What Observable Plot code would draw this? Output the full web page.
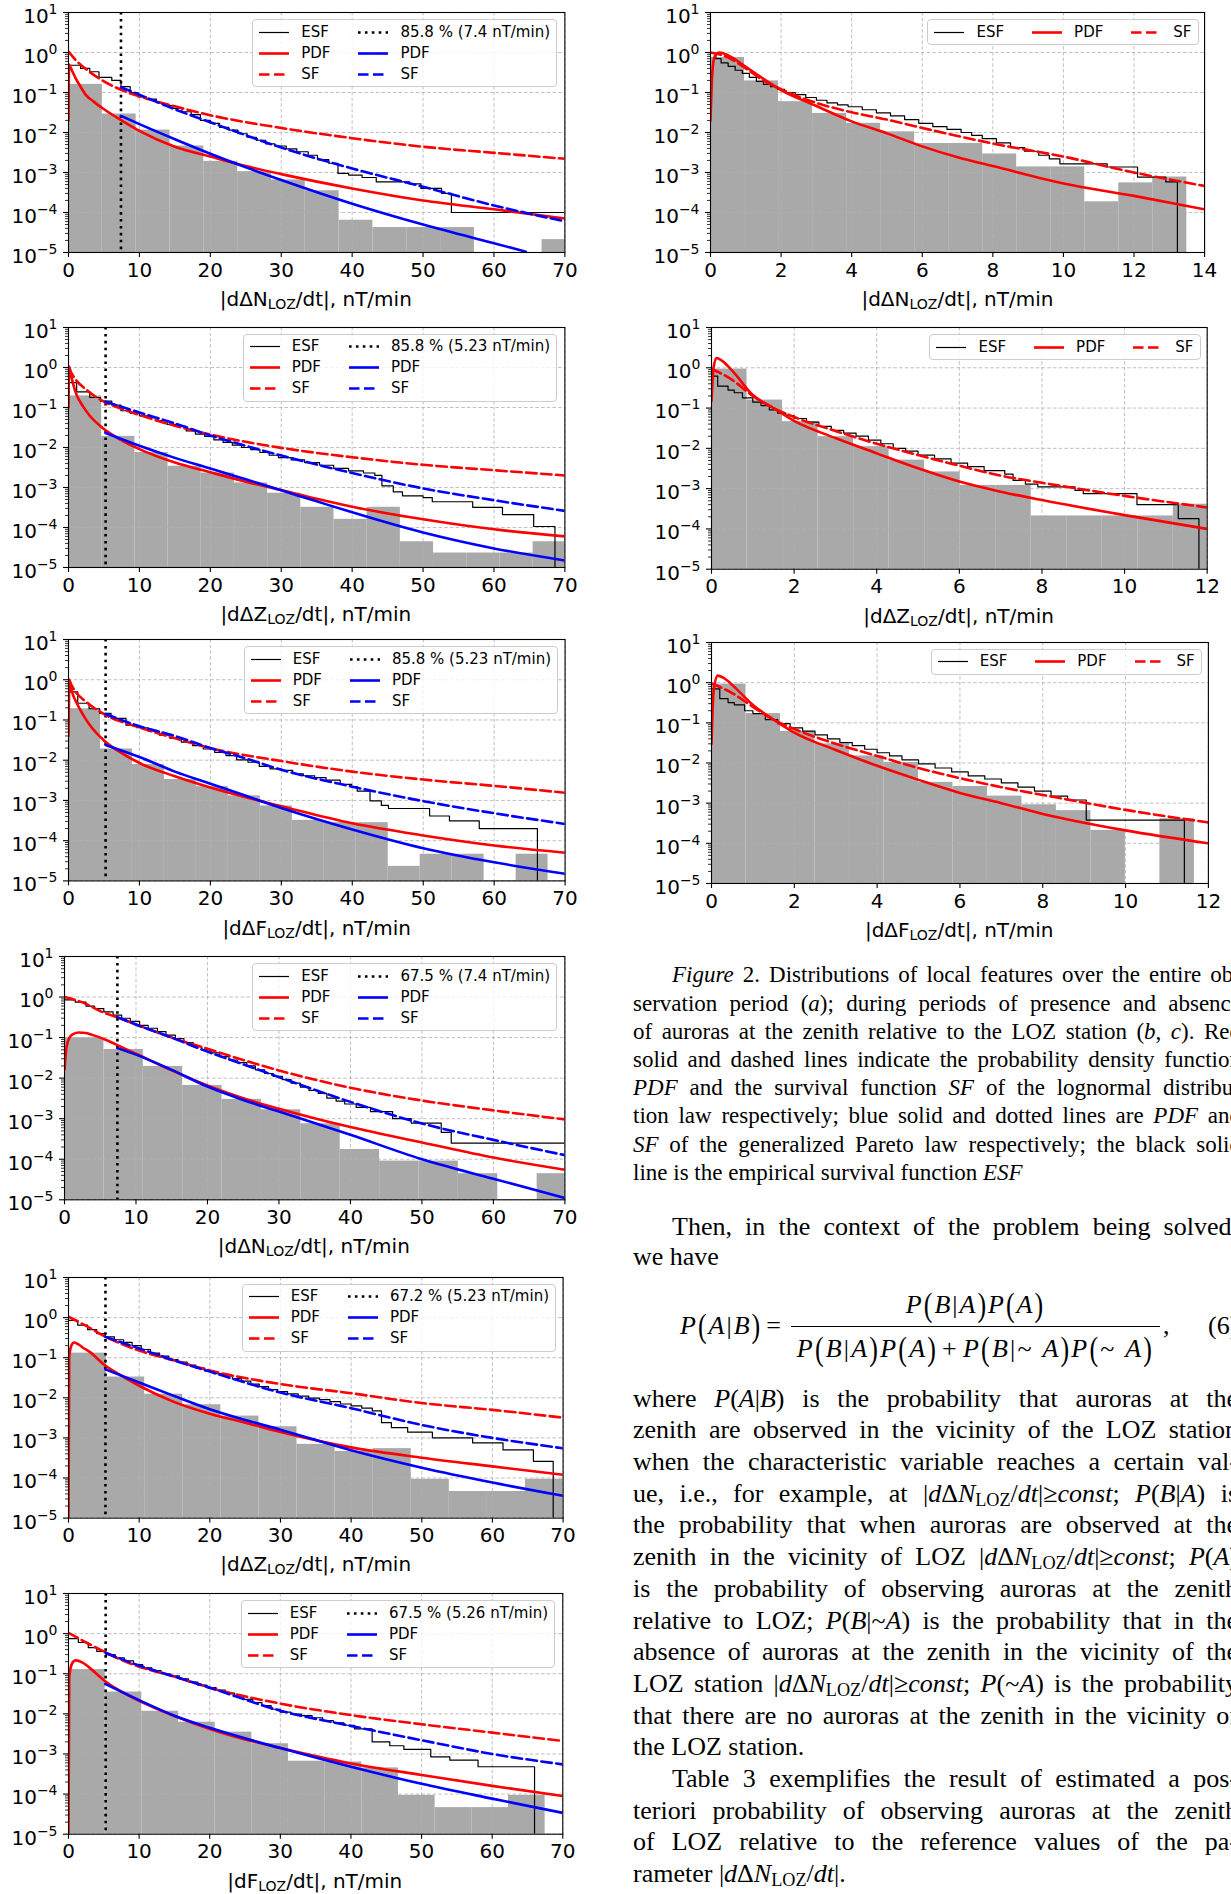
<!DOCTYPE html>
<html>
<head>
<meta charset="utf-8">
<script src="https://cdn.jsdelivr.net/npm/d3@7"></script>
<script src="https://cdn.jsdelivr.net/npm/@observablehq/plot@0.6"></script>
<style>
html, body { margin:0; padding:0; background:#fff; }
#page { position:relative; width:1231px; height:1894px; overflow:hidden; background:#fff; }
.pc { position:absolute; }
.xl { position:absolute; font-family:"DejaVu Sans"; font-size:20px; line-height:24px; text-align:center; white-space:nowrap; color:#000; }
.xl sub { font-size:14px; vertical-align:-3px; line-height:0; }
.leg { position:absolute; box-sizing:border-box; border:1px solid #cccccc; border-radius:4px; background:rgba(255,255,255,0.8); padding:3.5px 6px; font-family:"DejaVu Sans"; font-size:15px; line-height:17px; color:#000; white-space:nowrap; }
.leg svg { display:block; }
.g4 { display:grid; grid-template-columns:30px auto 30px auto; column-gap:12px; row-gap:4px; align-items:center; }
.g4 .t1 { padding-right:16px; }
.row3 { display:flex; align-items:center; }
.row3 svg { margin-right:12px; }
.row3 .t { margin-right:28px; }
.row3 .t:last-child { margin-right:0; }
.tl { position:absolute; white-space:nowrap; font-family:"Liberation Serif"; color:#000; }
.tl sub { font-size:70%; vertical-align:-0.22em; line-height:0; }
.eq { letter-spacing:2px; }
.eq2 { letter-spacing:2.2px; }
.bp { display:inline-block; transform:scale(1,1.3); }
.op { margin:0 4px; }
</style>
</head>
<body>
<div id="page"></div>
<script>
// ---------------- ticks ----------------
const xTicks70 = [0, 10, 20, 30, 40, 50, 60, 70];
const xTicks14 = [0, 2, 4, 6, 8, 10, 12, 14];
const xTicks12 = [0, 2, 4, 6, 8, 10, 12];
const yTicks = [1e-5, 1e-4, 1e-3, 1e-2, 1e-1, 1, 10];
const yTickLabels = ["10^-5", "10^-4", "10^-3", "10^-2", "10^-1", "10^0", "10^1"];
const yMinorMult = [2, 3, 4, 5, 6, 7, 8, 9];
const yMinorDecades = [1e-5, 1e-4, 1e-3, 1e-2, 1e-1, 1];

// ---------------- thresholds / labels ----------------
const thrValues = [7.4, 5.23, 5.23, 7.4, 5.23, 5.26];
const thrLabels = ["85.8 % (7.4 nT/min)", "85.8 % (5.23 nT/min)", "85.8 % (5.23 nT/min)",
                   "67.5 % (7.4 nT/min)", "67.2 % (5.23 nT/min)", "67.5 % (5.26 nT/min)"];
const xLabels = ["|dΔN<sub>LOZ</sub>/dt|, nT/min", "|dΔZ<sub>LOZ</sub>/dt|, nT/min", "|dΔF<sub>LOZ</sub>/dt|, nT/min",
                 "|dΔN<sub>LOZ</sub>/dt|, nT/min", "|dΔZ<sub>LOZ</sub>/dt|, nT/min", "|dF<sub>LOZ</sub>/dt|, nT/min",
                 "|dΔN<sub>LOZ</sub>/dt|, nT/min", "|dΔZ<sub>LOZ</sub>/dt|, nT/min", "|dΔF<sub>LOZ</sub>/dt|, nT/min"];

// ---------------- (a) whole period: dN ----------------
const aNEdges = [0,4.77,9.54,14.31,19.08,23.85,28.62,33.39,38.16,42.93,47.7,52.47,57.24,62.01,66.78,71.55];
const aNHist = [0.16,0.029,0.0115,0.0046,0.0019,0.00105,0.00065,0.00035,0.000064,0.000042,0.000042,0.000042,0,0,0.000021];
const aNEsf = [[0,0.48],[1.7,0.4],[3,0.33],[4.3,0.24],[6.1,0.2],[7.4,0.14],[8.7,0.1],[9.8,0.078],[11,0.068],[12.4,0.056],[13.4,0.047],[14.7,0.04],[16,0.033],[17.3,0.028],[18.6,0.02],[20,0.017],[21.3,0.0135],[22.6,0.0114],[23.9,0.0093],[25.2,0.0076],[26.5,0.0064],[27.8,0.0052],[29.1,0.0046],[30.7,0.0039],[32.2,0.0033],[33.8,0.0027],[35.1,0.0021],[36.7,0.0017],[38,0.00095],[39.5,0.00086],[41.4,0.00075],[43.4,0.00058],[48.1,0.00052],[49.7,0.0004],[52.6,0.0003],[54,0.0001],[70,0.0001]];
const aNLnPdf = [[0,0.02],[0.08,0.5],[0.3,0.42],[0.6,0.32],[1,0.23],[1.5,0.16],[2.5,0.085],[3.5,0.06],[5,0.038],[7.5,0.02],[10,0.011],[15,0.0044],[20,0.0025],[25,0.00145],[30,0.00091],[40,0.0004],[50,0.0002],[60,0.00012],[70,0.000071]];
const aNLnSf = [[0,1.05],[1,0.65],[2.5,0.38],[5,0.19],[7.5,0.115],[10,0.08],[15,0.045],[20,0.027],[30,0.013],[40,0.0072],[50,0.0044],[60,0.0031],[70,0.0022]];
const aNGpPdf = [[7.4,0.026],[10,0.0162],[15,0.0068],[20,0.00295],[25,0.00135],[30,0.00065],[40,0.000166],[50,0.00005],[60,0.000017],[64.5,0.0000105]];
const aNGpSf = [[7.4,0.135],[10,0.088],[15,0.038],[20,0.018],[30,0.0042],[40,0.00126],[50,0.00044],[60,0.00015],[70,0.00006]];

// ---------------- (a) dZ ----------------
const aZEdges = [0,4.68,9.36,14.04,18.72,23.4,28.08,32.76,37.44,42.12,46.8,51.48,56.16,60.84,65.52,70.2];
const aZHist = [0.195,0.019,0.0075,0.0034,0.0023,0.0013,0.00072,0.00032,0.00016,0.00032,0.000044,0.000023,0.000023,0.000023,0.000044];
const aZEsf = [[0,0.42],[1.15,0.246],[3,0.178],[4.5,0.145],[6.1,0.115],[7.4,0.083],[8.7,0.072],[10,0.062],[11.3,0.056],[12.6,0.047],[13.9,0.038],[15.2,0.034],[16.6,0.026],[17.9,0.0215],[19.2,0.019],[20.5,0.0155],[21.8,0.0134],[23.1,0.0115],[24.4,0.01],[25.7,0.0088],[27,0.0075],[28.3,0.0064],[29.6,0.0056],[31.4,0.0049],[33.3,0.0042],[35.4,0.0036],[37.4,0.003],[39.5,0.0026],[41.6,0.0023],[43.2,0.002],[44.2,0.0011],[45.8,0.00078],[47.1,0.00062],[50,0.00056],[51.3,0.00044],[57,0.00032],[61.2,0.00021],[65.6,0.000106],[68.6,0.00001]];
const aZLnPdf = [[0,0.1],[0.1,1.05],[0.4,0.6],[1,0.24],[2,0.11],[3,0.062],[5,0.029],[7,0.017],[10,0.0091],[15,0.0042],[20,0.0024],[25,0.0014],[30,0.00086],[35,0.00052],[40,0.00033],[50,0.00016],[60,0.00009],[70,0.00006]];
const aZLnSf = [[0,1.0],[1,0.5],[2.5,0.28],[5,0.14],[7,0.1],[10,0.065],[15,0.035],[20,0.021],[30,0.0098],[40,0.0057],[50,0.0037],[60,0.0027],[70,0.002]];
const aZGpPdf = [[5.23,0.023],[10,0.011],[15,0.0055],[20,0.003],[25,0.0016],[30,0.00085],[35,0.00045],[40,0.00024],[50,0.000075],[60,0.00003],[70,0.000015]];
const aZGpSf = [[5.23,0.14],[10,0.075],[15,0.04],[20,0.02],[25,0.011],[30,0.0063],[40,0.0023],[50,0.00095],[60,0.00048],[70,0.00026]];

// ---------------- (a) dF ----------------
const aFEdges = [0,4.51,9.01,13.52,18.03,22.54,27.04,31.55,36.06,40.56,45.07,49.58,54.08,58.59,63.1,67.6];
const aFHist = [0.19,0.019,0.0078,0.0033,0.0022,0.0013,0.00073,0.00032,0.00028,0.00028,0.000023,0.000046,0.000046,0,0.000046];
const aFEsf = [[0,0.5],[1.3,0.26],[2.9,0.19],[4.4,0.145],[6,0.11],[8.1,0.074],[9.6,0.064],[11.2,0.053],[12.8,0.042],[14.3,0.035],[15.9,0.028],[17.5,0.023],[19,0.019],[20.6,0.0157],[22.2,0.013],[23.7,0.0102],[25.3,0.0089],[26.9,0.007],[28.4,0.0061],[30,0.0056],[31.6,0.0046],[33.1,0.0041],[34.7,0.0037],[36.3,0.0032],[38.3,0.0025],[39.9,0.0022],[40.7,0.0017],[42.5,0.00097],[44.1,0.00075],[45.1,0.00063],[50.9,0.00041],[53.7,0.00031],[57.9,0.0002],[66.1,0.00001]];
const aFLnPdf = [[0,0.04],[0.15,1.0],[0.5,0.5],[1,0.3],[2,0.14],[3,0.075],[5,0.031],[7,0.017],[10,0.0085],[15,0.004],[20,0.0021],[25,0.0012],[30,0.00072],[40,0.00027],[50,0.000135],[60,0.000076],[70,0.00005]];
const aFLnSf = [[0,1.0],[1,0.5],[2.5,0.28],[5,0.14],[10,0.065],[15,0.035],[20,0.02],[30,0.0095],[40,0.0052],[50,0.0033],[60,0.0023],[70,0.00155]];
const aFGpPdf = [[5.23,0.024],[10,0.012],[15,0.0052],[20,0.0026],[25,0.0013],[30,0.00065],[40,0.00019],[50,0.000065],[60,0.000029],[70,0.000015]];
const aFGpSf = [[5.23,0.14],[10,0.07],[15,0.04],[20,0.02],[25,0.011],[30,0.0058],[40,0.0022],[50,0.00096],[60,0.00048],[70,0.00026]];

// ---------------- (b) aurora present: dN ----------------
const bNEdges = [0,5.51,11.02,16.53,22.04,27.55,33.06,38.57,44.08,49.59,55.1,60.61,66.12,71.63];
const bNHist = [0.099,0.051,0.0195,0.0066,0.003,0.00166,0.00075,0.000174,0.00009,0.00009,0.000044,0,0.000044];
const bNEsf = [[0,0.85],[1.5,0.75],[3,0.6],[4.2,0.52],[5.5,0.43],[6.8,0.36],[8,0.3],[9.2,0.25],[10.5,0.2],[11.7,0.17],[13,0.14],[14.2,0.115],[15.5,0.095],[16.7,0.075],[18,0.06],[19.2,0.05],[20.5,0.042],[21.7,0.034],[23,0.028],[24.2,0.024],[25.5,0.02],[26.7,0.016],[28,0.013],[29.2,0.011],[30.5,0.0092],[31.7,0.0075],[33,0.006],[34.2,0.005],[35.5,0.0042],[36.7,0.0032],[38,0.0027],[39.2,0.0023],[40.8,0.0019],[42.8,0.0015],[45.9,0.001],[48.5,0.00078],[52.7,0.00046],[54.1,0.00025],[70,0.00025]];
const bNLnPdf = [[0,0.016],[0.3,0.06],[0.7,0.1],[1.2,0.122],[2,0.133],[3,0.13],[4,0.115],[6,0.085],[8,0.058],[10,0.04],[15,0.0155],[20,0.0066],[25,0.0032],[30,0.00176],[40,0.00062],[50,0.00026],[60,0.00011],[70,0.000055]];
const bNLnSf = [[0,1.0],[1.5,0.85],[3,0.68],[5,0.45],[7.5,0.31],[10,0.21],[15,0.1],[20,0.053],[25,0.028],[30,0.0155],[40,0.0058],[50,0.0028],[60,0.0016],[70,0.00096]];
const bNGpPdf = [[7.4,0.055],[10,0.038],[15,0.016],[20,0.0062],[25,0.0029],[30,0.0015],[40,0.0004],[50,0.0001],[60,0.000033],[70,0.000011]];
const bNGpSf = [[7.4,0.32],[10,0.21],[15,0.1],[20,0.045],[25,0.022],[30,0.0106],[40,0.0026],[50,0.00076],[60,0.0003],[70,0.000126]];

// ---------------- (b) dZ ----------------
const bZEdges = [0,5.39,10.78,16.17,21.56,26.95,32.34,37.73,43.12,48.51,53.9,59.29,64.68,70.07];
const bZHist = [0.13,0.033,0.0123,0.0067,0.0035,0.0019,0.00069,0.00046,0.00054,0.000093,0.000046,0.000046,0.000093];
const bZEsf = [[0,0.85],[1.3,0.65],[2.7,0.5],[4,0.4],[5.2,0.33],[6.5,0.28],[7.8,0.24],[9,0.2],[10.3,0.16],[11.6,0.13],[12.9,0.11],[14.2,0.09],[15.5,0.078],[16.8,0.065],[18,0.055],[19.3,0.047],[20.6,0.04],[21.9,0.035],[23.2,0.03],[24.5,0.026],[25.8,0.022],[27,0.019],[28.3,0.016],[29.6,0.0143],[31,0.0125],[32.5,0.011],[34,0.0098],[35.5,0.009],[37,0.008],[38.5,0.007],[40,0.0063],[41.5,0.0055],[43,0.0047],[44.3,0.0024],[45.7,0.0018],[48,0.0014],[51.5,0.001],[57.2,0.00075],[61.5,0.0005],[65.8,0.00026],[68.6,0.00001]];
const bZLnPdf = [[0,0.00001],[0.1,0.1],[0.4,0.2],[0.8,0.24],[1.5,0.21],[2,0.18],[3,0.14],[5,0.068],[7,0.04],[10,0.02],[15,0.0078],[20,0.004],[25,0.0024],[30,0.0014],[40,0.00058],[50,0.00032],[60,0.000195],[70,0.00012]];
const bZLnSf = [[0,1.05],[2.5,0.62],[5,0.35],[7.5,0.22],[10,0.15],[15,0.085],[20,0.048],[30,0.022],[40,0.013],[50,0.0074],[60,0.005],[70,0.0032]];
const bZGpPdf = [[5.23,0.051],[10,0.024],[15,0.011],[20,0.0052],[25,0.0028],[30,0.0016],[40,0.00049],[50,0.00018],[60,0.000077],[70,0.000036]];
const bZGpSf = [[5.23,0.33],[10,0.17],[15,0.085],[20,0.045],[30,0.0135],[40,0.0055],[50,0.0021],[60,0.001],[70,0.00055]];

// ---------------- (b) dF ----------------
const bFEdges = [0,5.19,10.38,15.58,20.77,25.96,31.15,36.35,41.54,46.73,51.92,57.12,62.31,67.5];
const bFHist = [0.127,0.035,0.0116,0.0062,0.0035,0.0018,0.00066,0.00063,0.00045,0.000093,0.000046,0.000046,0.000093];
const bFEsf = [[0,0.75],[1.4,0.6],[2.8,0.45],[4,0.36],[5.3,0.3],[6.6,0.25],[7.9,0.21],[9.2,0.17],[10.5,0.14],[11.8,0.12],[13.1,0.1],[14.4,0.088],[15.7,0.075],[17,0.062],[18.3,0.052],[19.6,0.045],[20.9,0.039],[22.2,0.033],[23.5,0.028],[24.8,0.023],[26.1,0.019],[27.4,0.016],[28.7,0.013],[30,0.011],[31.5,0.0098],[33,0.009],[34.5,0.008],[36,0.0068],[37.5,0.006],[39,0.0052],[40.5,0.0042],[43,0.002],[45.5,0.0016],[47.5,0.0013],[51.3,0.00085],[54,0.0007],[58,0.00048],[66,0.00001]];
const bFLnPdf = [[0,0.00001],[0.1,0.08],[0.5,0.18],[1,0.215],[2,0.19],[3,0.14],[5,0.069],[7,0.04],[10,0.021],[15,0.0088],[20,0.0042],[25,0.0023],[30,0.0014],[40,0.00058],[50,0.0003],[60,0.00016],[70,0.000089]];
const bFLnSf = [[0,1.05],[2.5,0.6],[5,0.36],[7.5,0.22],[10,0.15],[15,0.085],[20,0.045],[30,0.018],[40,0.0093],[50,0.0055],[60,0.0034],[70,0.0021]];
const bFGpPdf = [[5.26,0.055],[10,0.022],[15,0.009],[20,0.0045],[30,0.0014],[40,0.00048],[50,0.00018],[60,0.000077],[70,0.000034]];
const bFGpSf = [[5.26,0.33],[10,0.16],[15,0.085],[20,0.045],[30,0.012],[40,0.005],[50,0.0022],[60,0.001],[70,0.00055]];

// ---------------- (c) aurora absent: dN ----------------
const cNEdges = [0,0.964,1.928,2.892,3.856,4.82,5.784,6.748,7.712,8.676,9.64,10.604,11.568,12.532,13.496];
const cNHist = [0.75,0.195,0.059,0.03,0.017,0.0104,0.0053,0.0053,0.0029,0.00138,0.00138,0.000185,0.00055,0.00077];
const cNEsf = [[0,0.95],[0.15,0.7],[0.3,0.55],[0.5,0.45],[0.7,0.36],[0.9,0.3],[1.1,0.24],[1.3,0.19],[1.5,0.16],[1.7,0.14],[1.9,0.12],[2.1,0.1],[2.4,0.088],[2.7,0.075],[3.0,0.064],[3.3,0.055],[3.6,0.049],[3.9,0.044],[4.3,0.037],[4.7,0.031],[5.1,0.026],[5.5,0.021],[5.9,0.017],[6.3,0.014],[6.7,0.012],[7.1,0.01],[7.4,0.0085],[7.7,0.007],[8.1,0.0055],[8.5,0.0042],[8.9,0.0034],[9.3,0.0027],[9.6,0.0022],[9.9,0.00165],[11.24,0.00137],[12.1,0.00077],[12.9,0.00058],[13.23,0.00001]];
const cNLnPdf = [[0,0.02],[0.05,0.3],[0.12,0.8],[0.25,1.0],[0.5,0.85],[1,0.44],[1.5,0.22],[2,0.115],[3,0.046],[4,0.019],[5,0.0095],[6,0.0045],[7,0.0024],[8,0.00145],[10,0.00053],[12,0.00026],[14,0.00012]];
const cNLnSf = [[0,1.0],[0.5,0.75],[1,0.4],[1.5,0.2],[2,0.12],[3,0.055],[4,0.032],[5,0.021],[6,0.013],[8,0.0053],[10,0.0025],[12,0.001],[14,0.00046]];

// ---------------- (c) dZ ----------------
const cZEdges = [0,0.86,1.72,2.58,3.44,4.3,5.16,6.02,6.88,7.74,8.6,9.46,10.32,11.18,12.04];
const cZHist = [0.93,0.158,0.046,0.0195,0.011,0.0051,0.0026,0.0012,0.0012,0.00021,0.00021,0.00021,0.00021,0.00041];
const cZEsf = [[0,0.62],[0.15,0.35],[0.4,0.28],[0.55,0.24],[0.75,0.18],[1,0.14],[1.2,0.115],[1.4,0.09],[1.6,0.075],[1.8,0.065],[2,0.055],[2.3,0.045],[2.6,0.035],[2.9,0.028],[3.2,0.024],[3.5,0.02],[3.8,0.016],[4.1,0.013],[4.4,0.01],[4.7,0.0085],[5,0.0068],[5.4,0.0055],[5.8,0.0043],[6.2,0.0035],[6.6,0.0028],[7.1,0.0023],[7.3,0.0016],[7.6,0.0013],[7.9,0.0011],[8.8,0.0009],[9,0.00075],[10.3,0.0004],[11.3,0.00018],[11.8,0.00001]];
const cZLnPdf = [[0,0.15],[0.05,1.0],[0.12,1.75],[0.25,1.5],[0.5,0.85],[1,0.21],[1.5,0.1],[2,0.048],[3,0.018],[4,0.0075],[5,0.0032],[6,0.0015],[7,0.00084],[8,0.00052],[10,0.00022],[12,0.0001]];
const cZLnSf = [[0,0.95],[0.5,0.5],[1,0.2],[1.5,0.1],[2,0.06],[3,0.027],[4,0.013],[5,0.0068],[6,0.0037],[7,0.0021],[8,0.0014],[10,0.00066],[12,0.00034]];

// ---------------- (c) dF ----------------
const cFEdges = [0,0.833,1.666,2.499,3.332,4.165,4.998,5.831,6.664,7.497,8.33,9.163,9.996,10.829,11.662];
const cFHist = [0.92,0.17,0.061,0.03,0.015,0.0103,0.0033,0.0026,0.0015,0.00091,0.00065,0.00021,0,0.00041];
const cFEsf = [[0,0.7],[0.2,0.4],[0.4,0.32],[0.55,0.28],[0.8,0.2],[1,0.17],[1.3,0.12],[1.6,0.095],[1.9,0.075],[2.2,0.062],[2.5,0.05],[2.8,0.04],[3.1,0.032],[3.4,0.027],[3.7,0.022],[4,0.018],[4.3,0.015],[4.6,0.012],[5,0.0095],[5.4,0.0075],[5.8,0.006],[6.2,0.0048],[6.6,0.004],[7,0.0032],[7.4,0.0025],[7.8,0.002],[8.2,0.0015],[8.6,0.0012],[9.05,0.00038],[11.42,0.00001]];
const cFLnPdf = [[0,0.03],[0.05,0.6],[0.15,1.5],[0.3,1.3],[0.6,0.7],[1,0.28],[1.5,0.12],[2,0.057],[3,0.021],[4,0.0085],[5,0.0038],[6,0.0018],[7,0.001],[8,0.00054],[10,0.00021],[12,0.0001]];
const cFLnSf = [[0,0.95],[0.5,0.55],[1,0.25],[1.5,0.12],[2,0.07],[3,0.03],[4,0.015],[5,0.0075],[6,0.0042],[7,0.0025],[8,0.0016],[10,0.00068],[12,0.00033]];

// ---------------- text ----------------
const captionLines = [
  "<i>Figure</i> 2. Distributions of local features over the entire ob-",
  "servation period (<i>a</i>); during periods of presence and absence",
  "of auroras at the zenith relative to the LOZ station (<i>b</i>, <i>c</i>). Red",
  "solid and dashed lines indicate the probability density function",
  "<i>PDF</i> and the survival function <i>SF</i> of the lognormal distribu-",
  "tion law respectively; blue solid and dotted lines are <i>PDF</i> and",
  "<i>SF</i> of the generalized Pareto law respectively; the black solid",
  "line is the empirical survival function <i>ESF</i>"
];
const dN = "|<i>d</i>Δ<i>N</i><sub>LOZ</sub>/<i>dt</i>|";
const bodyLines = [
  "where <i>P</i>(<i>A</i>|<i>B</i>) is the probability that auroras at the",
  "zenith are observed in the vicinity of the LOZ station",
  "when the characteristic variable reaches a certain val-",
  "ue, i.e., for example, at " + dN + "≥<i>const</i>; <i>P</i>(<i>B</i>|<i>A</i>) is",
  "the probability that when auroras are observed at the",
  "zenith in the vicinity of LOZ " + dN + "≥<i>const</i>; <i>P</i>(<i>A</i>)",
  "is the probability of observing auroras at the zenith",
  "relative to LOZ; <i>P</i>(<i>B</i>|~<i>A</i>) is the probability that in the",
  "absence of auroras at the zenith in the vicinity of the",
  "LOZ station " + dN + "≥<i>const</i>; <i>P</i>(~<i>A</i>) is the probability",
  "that there are no auroras at the zenith in the vicinity of",
  "the LOZ station.",
  "Table 3 exemplifies the result of estimated a pos-",
  "teriori probability of observing auroras at the zenith",
  "of LOZ relative to the reference values of the pa-",
  "rameter " + dN + "."
];

// ---------------- layout ----------------
const page = document.getElementById("page");
const NS = "http://www.w3.org/2000/svg";
const DASH_SF = "10.5,4.5", DASH_THR = "2.6,4.3";
const yMinor = yMinorDecades.flatMap(d => yMinorMult.map(m => m * d));

const panels = [
  {L:{left:67.6,right:564,top:12.3,bottom:252.3}, xmax:70, xt:xTicks70, edges:aNEdges, hist:aNHist, esf:aNEsf, pdf:aNLnPdf, sf:aNLnSf, gpPdf:aNGpPdf, gpSf:aNGpSf, k:0},
  {L:{left:67.6,right:564,top:326.7,bottom:566.7}, xmax:70, xt:xTicks70, edges:aZEdges, hist:aZHist, esf:aZEsf, pdf:aZLnPdf, sf:aZLnSf, gpPdf:aZGpPdf, gpSf:aZGpSf, k:1},
  {L:{left:68.4,right:565,top:639.3,bottom:880.7}, xmax:70, xt:xTicks70, edges:aFEdges, hist:aFHist, esf:aFEsf, pdf:aFLnPdf, sf:aFLnSf, gpPdf:aFGpPdf, gpSf:aFGpSf, k:2},
  {L:{left:63.6,right:564,top:956,bottom:1199.3}, xmax:70, xt:xTicks70, edges:bNEdges, hist:bNHist, esf:bNEsf, pdf:bNLnPdf, sf:bNLnSf, gpPdf:bNGpPdf, gpSf:bNGpSf, k:3},
  {L:{left:68.4,right:563,top:1276.7,bottom:1517.3}, xmax:70, xt:xTicks70, edges:bZEdges, hist:bZHist, esf:bZEsf, pdf:bZLnPdf, sf:bZLnSf, gpPdf:bZGpPdf, gpSf:bZGpSf, k:4},
  {L:{left:67.7,right:562,top:1593.3,bottom:1834}, xmax:70, xt:xTicks70, edges:bFEdges, hist:bFHist, esf:bFEsf, pdf:bFLnPdf, sf:bFLnSf, gpPdf:bFGpPdf, gpSf:bFGpSf, k:5},
  {L:{left:710.4,right:1204.5,top:12.3,bottom:252.3}, xmax:14, xt:xTicks14, edges:cNEdges, hist:cNHist, esf:cNEsf, pdf:cNLnPdf, sf:cNLnSf, k:6},
  {L:{left:710.8,right:1206.5,top:327.3,bottom:569}, xmax:12, xt:xTicks12, edges:cZEdges, hist:cZHist, esf:cZEsf, pdf:cZLnPdf, sf:cZLnSf, k:7},
  {L:{left:710.8,right:1207.7,top:641.7,bottom:882.7}, xmax:12, xt:xTicks12, edges:cFEdges, hist:cFHist, esf:cFEsf, pdf:cFLnPdf, sf:cFLnSf, k:8}
];

function sample(stroke, w, dash) {
  return `<svg width="30" height="17"><line x1="0" x2="30" y1="8.5" y2="8.5" stroke="${stroke}" stroke-width="${w}"${dash ? ` stroke-dasharray="${dash}"` : ""}/></svg>`;
}

function drawPanel(P) {
  const L = P.L;
  const mL = 80, mR = 12, mT = 10, mB = 40;
  const W = L.right - L.left, H = L.bottom - L.top;
  const bars = P.hist.map((v, i) => ({x1: P.edges[i], x2: P.edges[i + 1], v})).filter(d => d.v > 0);
  const xy = {x: d => d[0], y: d => d[1], clip: true};
  const grid = {stroke: "#b0b0b0", strokeOpacity: 1, strokeWidth: 0.8, strokeDasharray: "3.5,2.2"};
  const marks = [
    Plot.rect(bars, {x1: "x1", x2: "x2", y1: () => 1e-5, y2: "v", fill: "#a9a9a9", clip: true}),
    Plot.gridX(P.xt, grid),
    Plot.gridY(yTicks, grid),
    Plot.line(P.esf, {...xy, curve: "step-after", stroke: "black", strokeWidth: 1.2})
  ];
  if (P.gpPdf) {
    marks.push(Plot.ruleX([thrValues[P.k]], {stroke: "black", strokeWidth: 2.6, strokeDasharray: DASH_THR}));
  }
  marks.push(
    Plot.line(P.pdf, {...xy, curve: "monotone-x", stroke: "red", strokeWidth: 2.6}),
    Plot.line(P.sf, {...xy, curve: "monotone-x", stroke: "red", strokeWidth: 2.6, strokeDasharray: DASH_SF})
  );
  if (P.gpPdf) {
    marks.push(
      Plot.line(P.gpPdf, {...xy, curve: "monotone-x", stroke: "blue", strokeWidth: 2.6}),
      Plot.line(P.gpSf, {...xy, curve: "monotone-x", stroke: "blue", strokeWidth: 2.6, strokeDasharray: DASH_SF})
    );
  }
  marks.push(
    Plot.frame({stroke: "black", strokeWidth: 1.1}),
    Plot.axisX(P.xt, {tickSize: 5, tickPadding: 5, tickFormat: d => String(d), label: null, strokeWidth: 1.1}),
    Plot.axisY(yTicks, {tickSize: 5, tickPadding: 6, tickFormat: d => yTickLabels[yTicks.indexOf(d)], label: null, strokeWidth: 1.1}),
    Plot.axisY(yMinor, {tickSize: 3, tickFormat: () => "", label: null, strokeWidth: 0.8})
  );
  const svg = Plot.plot({
    width: W + mL + mR, height: H + mT + mB,
    marginLeft: mL, marginRight: mR, marginTop: mT, marginBottom: mB,
    style: {fontFamily: "DejaVu Sans", fontSize: "20px", background: "transparent", color: "black", overflow: "visible"},
    x: {domain: [0, P.xmax]},
    y: {type: "log", domain: [1e-5, 10]},
    marks
  });
  // superscripts for y tick labels
  svg.querySelectorAll("text").forEach(t => {
    const s = t.textContent;
    if (s.startsWith("10^")) {
      const e = s.slice(3).replace("-", "\u2212");
      t.textContent = "";
      const a = document.createElementNS(NS, "tspan");
      a.textContent = "10"; a.setAttribute("dy", "4");
      const b = document.createElementNS(NS, "tspan");
      b.textContent = e; b.setAttribute("font-size", "14"); b.setAttribute("dy", "-9");
      t.append(a, b);
    }
  });
  const box = document.createElement("div");
  box.className = "pc";
  box.style.left = (L.left - mL) + "px";
  box.style.top = (L.top - mT) + "px";
  box.appendChild(svg);
  page.appendChild(box);

  const xl = document.createElement("div");
  xl.className = "xl";
  xl.style.left = L.left + "px"; xl.style.width = W + "px";
  xl.style.top = (L.bottom + 35) + "px";
  xl.innerHTML = xLabels[P.k];
  page.appendChild(xl);

  const leg = document.createElement("div");
  leg.className = "leg";
  if (P.gpPdf) {
    leg.style.right = (1231 - (L.right - 7)) + "px";
    leg.style.top = (L.top + 7) + "px";
    leg.innerHTML = `<div class="g4">${sample("black", 1.2)}<span class="t1">ESF</span>${sample("black", 2.6, DASH_THR)}<span>${thrLabels[P.k]}</span>` +
      `${sample("red", 2.6)}<span class="t1">PDF</span>${sample("blue", 2.6)}<span>PDF</span>` +
      `${sample("red", 2.6, DASH_SF)}<span class="t1">SF</span>${sample("blue", 2.6, DASH_SF)}<span>SF</span></div>`;
  } else {
    leg.style.right = (1231 - (L.right - 6)) + "px";
    leg.style.top = (L.top + 7) + "px";
    leg.innerHTML = `<div class="row3">${sample("black", 1.2)}<span class="t">ESF</span>${sample("red", 2.6)}<span class="t">PDF</span>${sample("red", 2.6, DASH_SF)}<span class="t">SF</span></div>`;
  }
  page.appendChild(leg);
}
panels.forEach(drawPanel);

// ---------------- text column ----------------
function addText(html, left, baseline, size, target, extraClass) {
  const d = document.createElement("div");
  d.className = "tl" + (extraClass ? " " + extraClass : "");
  d.style.fontSize = size + "px";
  d.style.lineHeight = (size * 1.2) + "px";
  d.style.left = left + "px";
  d.style.top = (baseline - size * 0.9375) + "px";
  d.innerHTML = html;
  page.appendChild(d);
  if (target) {
    const w = d.getBoundingClientRect().width;
    const n = (d.textContent.match(/ /g) || []).length;
    if (n > 0) d.style.wordSpacing = ((target - w) / n) + "px";
  }
  return d;
}
const TX = 633, IND = 39, CAPW = 608, BODYW = 605;
captionLines.forEach((h, i) => {
  const last = i === captionLines.length - 1;
  const x = i === 0 ? TX + IND : TX;
  addText(h, x, 983 + 28.2 * i, 23, last ? null : (i === 0 ? CAPW - IND : CAPW));
});
addText("Then, in the context of the problem being solved,", TX + IND, 1235, 26, BODYW - IND);
addText("we have", TX, 1265, 26, null);

// equation (6)
addText('<i>P</i><span class="bp">(</span><i>A</i>|<i>B</i><span class="bp">)</span><span class="op">=</span>', 680, 1334, 26, null, "eq");
const num = addText('<i>P</i><span class="bp">(</span><i>B</i>|<i>A</i><span class="bp">)</span><i>P</i><span class="bp">(</span><i>A</i><span class="bp">)</span>', 791, 1313, 26, null, "eq");
num.style.width = "369px"; num.style.textAlign = "center";
const bar = document.createElement("div");
bar.style.cssText = "position:absolute;left:791px;top:1325.5px;width:369px;height:1.3px;background:#000;";
page.appendChild(bar);
const den = addText('<i>P</i><span class="bp">(</span><i>B</i>|<i>A</i><span class="bp">)</span><i>P</i><span class="bp">(</span><i>A</i><span class="bp">)</span><span class="op">+</span><i>P</i><span class="bp">(</span><i>B</i>|~ <i>A</i><span class="bp">)</span><i>P</i><span class="bp">(</span>~ <i>A</i><span class="bp">)</span>', 791, 1357, 26, null, "eq2");
den.style.width = "369px"; den.style.textAlign = "center";
addText(",", 1163, 1334, 26, null);
addText("(6)", 1208, 1334, 26, null);

bodyLines.forEach((h, i) => {
  const indent = i === 12;
  const last = i === 11 || i === 15;
  const x = indent ? TX + IND : TX;
  addText(h, x, 1407 + 31.7 * i, 26, last ? null : (indent ? BODYW - IND : BODYW));
});
</script>
</body>
</html>
